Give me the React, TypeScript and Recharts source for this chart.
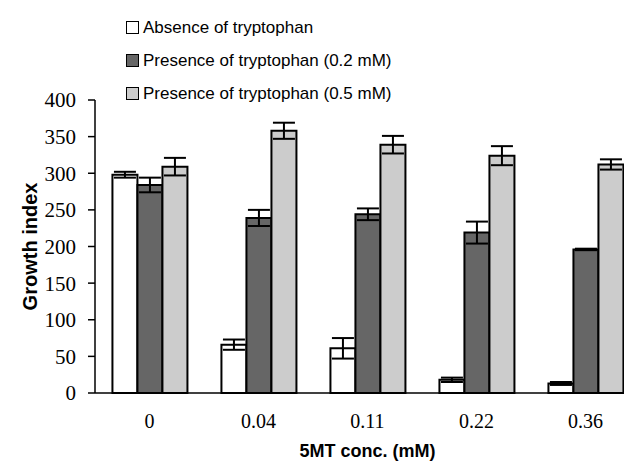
import React from 'react';
import { BarChart, Bar, XAxis, YAxis, ErrorBar } from 'recharts';

const categories = ['0', '0.04', '0.11', '0.22', '0.36'];
const absence = [298, 66, 61, 18, 13];
const absenceErr = [4, 7, 14, 3, 2];
const trp02 = [284, 239, 244, 219, 196];
const trp02Err = [10, 11, 8, 15, 1];
const trp05 = [309, 358, 339, 324, 312];
const trp05Err = [12, 11, 12, 13, 7];
const yTicks = [0, 50, 100, 150, 200, 250, 300, 350, 400];

const data = categories.map((c, i) => ({
  conc: c,
  absence: absence[i],
  absenceErr: absenceErr[i],
  trp02: trp02[i],
  trp02Err: trp02Err[i],
  trp05: trp05[i],
  trp05Err: trp05Err[i],
}));

const legendItems = [
  { label: 'Absence of tryptophan', fill: '#ffffff' },
  { label: 'Presence of tryptophan (0.2 mM)', fill: '#666666' },
  { label: 'Presence of tryptophan (0.5 mM)', fill: '#cccccc' },
];

const sans = '"Liberation Sans", Arial, sans-serif';
const serif = '"Liberation Serif", "Times New Roman", serif';

const LegendBox = () => (
  <div
    style={{
      position: 'absolute',
      top: 11,
      left: 126,
      fontFamily: sans,
      fontSize: 17,
      color: '#000',
      zIndex: 2,
    }}
  >
    {legendItems.map((it) => (
      <div key={it.label} style={{ display: 'flex', alignItems: 'center', height: 33 }}>
        <span
          style={{
            width: 11,
            height: 11,
            background: it.fill,
            border: '1.5px solid #000',
            marginRight: 4,
            display: 'inline-block',
          }}
        />
        <span>{it.label}</span>
      </div>
    ))}
  </div>
);

export default function App() {
  return (
    <div
      style={{
        margin: -8,
        width: 632,
        height: 469,
        overflow: 'hidden',
        background: '#fff',
        position: 'relative',
      }}
    >
      <LegendBox />
      <BarChart
        width={640}
        height={469}
        data={data}
        margin={{ top: 100, right: 0, left: 0, bottom: 0 }}
        barCategoryGap="16%"
        barGap={0}
      >
        <XAxis
          dataKey="conc"
          height={76}
          axisLine={{ stroke: '#000', strokeWidth: 1.5 }}
          tickLine={false}
          tickSize={0}
          tickMargin={21}
          tick={{ fill: '#000', fontFamily: serif, fontSize: 20 }}
          label={{
            value: '5MT conc. (mM)',
            position: 'insideBottom',
            offset: 12,
            style: { fontFamily: sans, fontWeight: 'bold', fontSize: 18, fill: '#000' },
          }}
        />
        <YAxis
          width={95}
          domain={[0, 400]}
          ticks={yTicks}
          interval={0}
          axisLine={{ stroke: '#000', strokeWidth: 1.5 }}
          tickLine={{ stroke: '#000', strokeWidth: 1.5 }}
          tickSize={7}
          tickMargin={12}
          tick={{ fill: '#000', fontFamily: serif, fontSize: 21 }}
          label={{
            value: 'Growth index',
            angle: -90,
            position: 'insideLeft',
            offset: 30,
            style: { textAnchor: 'middle', fontFamily: sans, fontWeight: 'bold', fontSize: 20, fill: '#000' },
          }}
        />
        <Bar dataKey="absence" fill="#ffffff" stroke="#000" strokeWidth={2} isAnimationActive={false}>
          <ErrorBar dataKey="absenceErr" width={11} stroke="#000" strokeWidth={2} />
        </Bar>
        <Bar dataKey="trp02" fill="#666666" stroke="#000" strokeWidth={2} isAnimationActive={false}>
          <ErrorBar dataKey="trp02Err" width={11} stroke="#000" strokeWidth={2} />
        </Bar>
        <Bar dataKey="trp05" fill="#cccccc" stroke="#000" strokeWidth={2} isAnimationActive={false}>
          <ErrorBar dataKey="trp05Err" width={11} stroke="#000" strokeWidth={2} />
        </Bar>
      </BarChart>
    </div>
  );
}
